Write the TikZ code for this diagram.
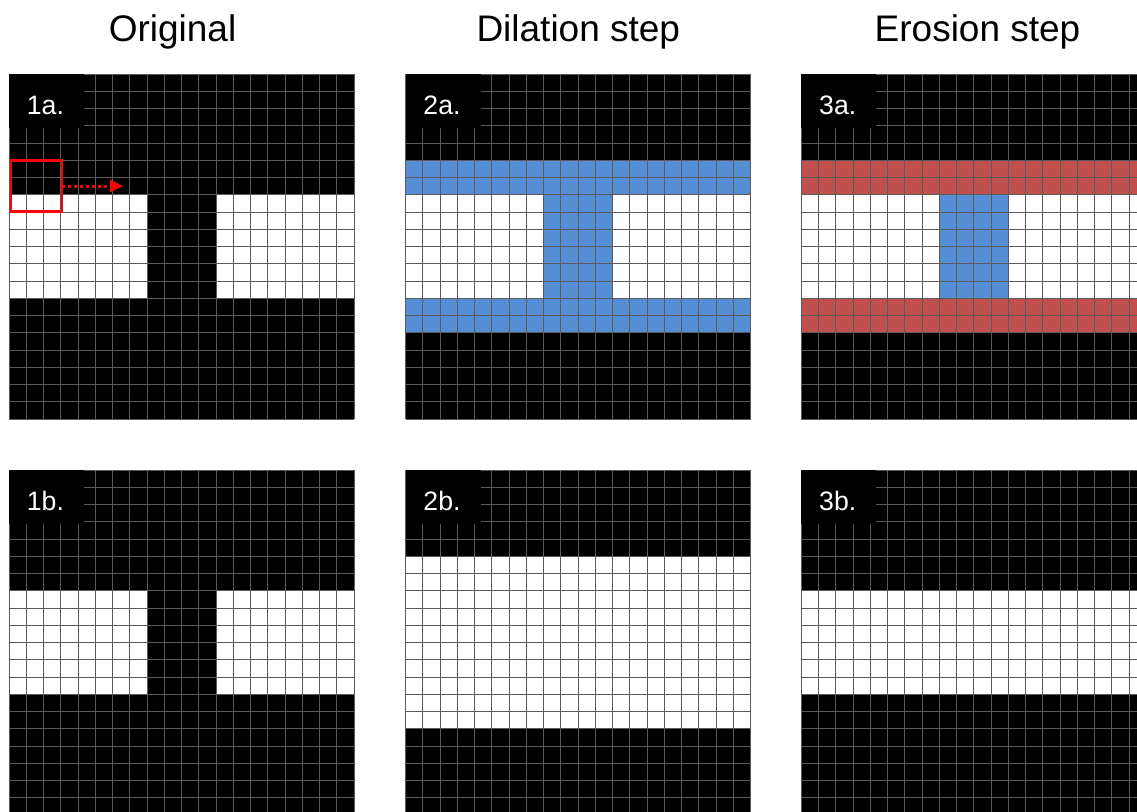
\documentclass[tikz,border=0pt]{standalone}
\usepackage{fontspec}
\setmainfont{Liberation Sans}
\usetikzlibrary{arrows.meta}
\definecolor{dilblue}{HTML}{558ED5}
\definecolor{erored}{HTML}{C0504D}
\definecolor{gridgray}{HTML}{5A5A5A}
\definecolor{kernelred}{HTML}{FF0000}
\tikzset{
  title/.style={font=\fontsize{27.75pt}{32pt}\selectfont, anchor=base, inner sep=0pt},
  tag/.style={font=\fontsize{20pt}{24pt}\selectfont, text=white, anchor=base west, inner sep=0pt},
  gridline/.style={draw=gridgray, line width=0.75pt},
  tagbox/.style={fill=black},
  kernelbox/.style={draw=kernelred, line width=2pt, minimum width=38.25pt,
    minimum height=38.25pt, inner sep=0pt, outer sep=0pt},
  slide/.style={draw=kernelred, line width=2.25pt, dash pattern=on 2.25pt off 2.25pt,
    -{Triangle[length=9.75pt,width=9pt]}},
}
% 20x20 cell lattice in cell units
\newcommand\cellgrid{%
  \foreach \k in {0,...,20}{%
    \draw[gridline] (\k,0) -- (\k,20);
    \draw[gridline] (0,\k) -- (20,\k);
  }}
% #1,#2 top-left corner (px), #3 coloured cells, #4 tag node name, #5 tag text
\newcommand\gridpanel[5]{%
  \begin{scope}[shift={(#1,#2)}, x=12.9375pt, y=-12.9375pt]
    \fill[black] (0,0) rectangle (20,20);
    #3
    \cellgrid
    \fill[tagbox] (0,0) rectangle (4.35,3.13);
    \node[tag] (#4) at (1.02,2.33) {#5};
  \end{scope}}
\begin{document}
\begin{tikzpicture}[x=0.75pt, y=-0.75pt]
  \useasboundingbox (0,0) rectangle (1137,811);
  \clip (0,0) rectangle (1137,811);

  % column headings
  \node[title] (hdorig) at (172.5,41) {Original};
  \node[title] (hddil)  at (578.3,41) {Dilation step};
  \node[title] (hdero)  at (977.5,41) {Erosion step};

  % top row
  \gridpanel{9}{74}{%
    \fill[white] (0,7) rectangle (8,13);
    \fill[white] (12,7) rectangle (20,13);
  }{tagoa}{1a.}
  \gridpanel{405.6}{74}{%
    \fill[dilblue] (0,5) rectangle (20,7);
    \fill[white] (0,7) rectangle (8,13);
    \fill[dilblue] (8,7) rectangle (12,13);
    \fill[white] (12,7) rectangle (20,13);
    \fill[dilblue] (0,13) rectangle (20,15);
  }{tagda}{2a.}
  \gridpanel{801.3}{74}{%
    \fill[erored] (0,5) rectangle (20,7);
    \fill[white] (0,7) rectangle (8,13);
    \fill[dilblue] (8,7) rectangle (12,13);
    \fill[white] (12,7) rectangle (20,13);
    \fill[erored] (0,13) rectangle (20,15);
  }{tagea}{3a.}

  % bottom row
  \gridpanel{9}{470}{%
    \fill[white] (0,7) rectangle (8,13);
    \fill[white] (12,7) rectangle (20,13);
  }{tagob}{1b.}
  \gridpanel{405.6}{470}{%
    \fill[white] (0,5) rectangle (20,15);
  }{tagdb}{2b.}
  \gridpanel{801.3}{470}{%
    \fill[white] (0,7) rectangle (20,13);
  }{tageb}{3b.}

  % structuring element and its sliding direction
  \node[kernelbox] (kernel) at (36.5,186) {};
  \coordinate (slideend) at (123,186);
  \draw[slide] (kernel.east) -- (slideend);
\end{tikzpicture}
\end{document}
